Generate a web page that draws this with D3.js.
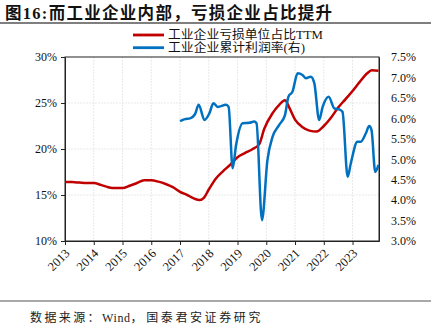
<!DOCTYPE html>
<html><head><meta charset="utf-8">
<script src="https://cdn.jsdelivr.net/npm/d3@7"></script>
<style>body{margin:0;background:#fff}svg{display:block}</style>
</head><body>
<script>
// ---- data ----
const titleText = "图16:而工业企业内部，亏损企业占比提升";
const sourceParts = ["数据来源：", "Wind，", "国泰君安证券研究"];
const legendLabels = ["工业企业亏损单位占比TTM", "工业企业累计利润率(右)"];
const yearTicks = [2013,2014,2015,2016,2017,2018,2019,2020,2021,2022,2023];
const leftTicks = [10,15,20,25,30];
const rightTicks = [3.0,3.5,4.0,4.5,5.0,5.5,6.0,6.5,7.0,7.5];
// loss-making share (TTM), x in decimal years
const redX = [2013.0,2013.25,2013.5,2013.75,2014.0,2014.25,2014.5,2014.75,2015.0,2015.25,2015.5,2015.75,2016.0,2016.25,2016.5,2016.75,2017.0,2017.25,2017.5,2017.67,2017.83,2018.0,2018.25,2018.5,2018.75,2019.0,2019.25,2019.5,2019.75,2019.93,2020.22,2020.45,2020.65,2020.8,2021.0,2021.25,2021.5,2021.75,2022.0,2022.25,2022.5,2022.75,2023.0,2023.25,2023.5,2023.67,2023.9];
const redY = [16.4,16.4,16.35,16.3,16.3,16.1,15.85,15.75,15.75,16.0,16.3,16.6,16.6,16.45,16.2,15.85,15.35,15.0,14.6,14.45,14.7,15.6,16.8,17.6,18.3,19.1,19.55,19.95,20.5,22.2,23.9,24.8,25.3,24.5,23.2,22.4,22.0,21.9,22.5,23.4,24.5,25.4,26.3,27.3,28.2,28.55,28.5];
// cumulative profit margin (right axis)
const blueX = [2017.0,2017.17,2017.35,2017.52,2017.65,2017.85,2018.02,2018.16,2018.31,2018.6,2018.69,2018.83,2018.95,2019.18,2019.41,2019.58,2019.66,2019.85,2020.04,2020.22,2020.45,2020.65,2020.77,2020.91,2021.09,2021.26,2021.38,2021.55,2021.67,2021.84,2021.96,2022.17,2022.37,2022.54,2022.65,2022.83,2022.94,2023.17,2023.29,2023.46,2023.58,2023.66,2023.79,2023.9];
const blueY = [5.93,5.98,6.0,6.1,6.33,5.96,6.12,6.37,6.28,6.33,6.28,4.78,5.35,5.88,5.89,5.92,5.88,3.51,4.98,5.55,5.84,6.08,6.53,6.65,7.1,7.06,6.98,7.02,6.86,5.96,6.28,6.53,6.24,6.22,6.16,4.57,4.9,5.43,5.43,5.63,5.81,5.71,4.69,4.86];

// ---- layout ----
const W = 434, H = 335;
const L = 65, R = 379, T = 57, B = 241;
const serif = "'Liberation Serif','Times New Roman','Noto Sans CJK SC',serif";
const svg = d3.select("body").append("svg").attr("width", W).attr("height", H);

const x = d3.scaleLinear().domain([2013, 2023.92]).range([L, R]);
const yL = d3.scaleLinear().domain([10, 30]).range([B, T]);
const yR = d3.scaleLinear().domain([3, 7.5]).range([B, T]);

// title
svg.append("text").attr("x", 5).attr("y", 19).attr("font-family", serif)
  .attr("font-weight", "bold").attr("font-size", 16.5).attr("fill", "#111")
  .attr("textLength", 327).attr("lengthAdjust", "spacing").text(titleText);
svg.append("line").attr("x1", 0).attr("x2", 431).attr("y1", 23).attr("y2", 23)
  .attr("stroke", "#555").attr("stroke-width", 1.5);
svg.append("line").attr("x1", 0).attr("x2", 431).attr("y1", 301).attr("y2", 301)
  .attr("stroke", "#555").attr("stroke-width", 1.2);
const src = svg.append("text").attr("x", 30).attr("y", 322).attr("font-family", serif)
  .attr("font-size", 12).attr("fill", "#222");
src.append("tspan").attr("letter-spacing", 2.4).text(sourceParts[0]);
src.append("tspan").attr("letter-spacing", 0.6).text(sourceParts[1]);
src.append("tspan").attr("dx", 3).attr("letter-spacing", 2.6).text(sourceParts[2]);

// grid
const g = svg.append("g");
g.selectAll(".vg").data(yearTicks.slice(1)).join("line")
  .attr("x1", d => x(d)).attr("x2", d => x(d)).attr("y1", T).attr("y2", B)
  .attr("stroke", "#e3e3e3").attr("stroke-width", 0.8).attr("stroke-dasharray", "2,1");
g.selectAll(".hg").data(leftTicks.slice(1, -1)).join("line")
  .attr("x1", L).attr("x2", R).attr("y1", d => yL(d)).attr("y2", d => yL(d))
  .attr("stroke", "#e3e3e3").attr("stroke-width", 0.8).attr("stroke-dasharray", "2,1");

// axes
const xAxis = d3.axisBottom(x).tickValues(yearTicks).tickFormat(d3.format("d")).tickSize(4).tickSizeOuter(0);
const xg = svg.append("g").attr("transform", `translate(0,${B})`).call(xAxis);
xg.selectAll("text").attr("font-family", serif).attr("font-size", 12.5).attr("fill", "#111")
  .attr("text-anchor", "end").attr("dy", null).attr("y", 0)
  .attr("transform", d => `translate(3,11) rotate(-45)`).attr("dominant-baseline", "middle");
const lAxis = d3.axisLeft(yL).tickValues(leftTicks).tickFormat(d => d + "%").tickSize(4).tickSizeOuter(0);
const lg = svg.append("g").attr("transform", `translate(${L},0)`).call(lAxis);
lg.selectAll("text").attr("font-family", serif).attr("font-size", 12).attr("fill", "#111").attr("x", -8);
const rAxis = d3.axisRight(yR).tickValues(rightTicks).tickFormat(d => d.toFixed(1) + "%").tickSize(0).tickSizeOuter(0);
const rg = svg.append("g").attr("transform", `translate(${R},0)`).call(rAxis);
rg.selectAll("text").attr("font-family", serif).attr("font-size", 12).attr("fill", "#111").attr("x", 12);
[xg, lg, rg].forEach(a => { a.select(".domain").attr("stroke", "#222"); a.selectAll(".tick line").attr("stroke", "#222"); });
svg.append("rect").attr("x", L).attr("y", T).attr("width", R - L).attr("height", B - T)
  .attr("fill", "none").attr("stroke", "#222").attr("stroke-width", 1);

// lines
const redData = redX.map((v, i) => [v, redY[i]]);
const blueData = blueX.map((v, i) => [v, blueY[i]]);
svg.append("path").datum(redData).attr("fill", "none").attr("stroke", "#C00000").attr("stroke-width", 2.5)
  .attr("d", d3.line().x(d => x(d[0])).y(d => yL(d[1])).curve(d3.curveMonotoneX));
svg.append("path").datum(blueData).attr("fill", "none").attr("stroke", "#0070C0").attr("stroke-width", 2.5)
  .attr("d", d3.line().x(d => x(d[0])).y(d => yR(d[1])).curve(d3.curveMonotoneX));

// legend
const legColors = ["#C00000", "#0070C0"];
const legLen = [155, 137];
legendLabels.forEach((t, i) => {
  const yy = 35 + i * 12.7;
  svg.append("line").attr("x1", 133).attr("x2", 164).attr("y1", yy).attr("y2", yy)
    .attr("stroke", legColors[i]).attr("stroke-width", 2.8);
  svg.append("text").attr("x", 168).attr("y", yy + 4.3).attr("font-family", serif)
    .attr("font-size", 12).attr("fill", "#111")
    .attr("textLength", legLen[i]).attr("lengthAdjust", "spacingAndGlyphs").text(t);
});
</script>
</body></html>
